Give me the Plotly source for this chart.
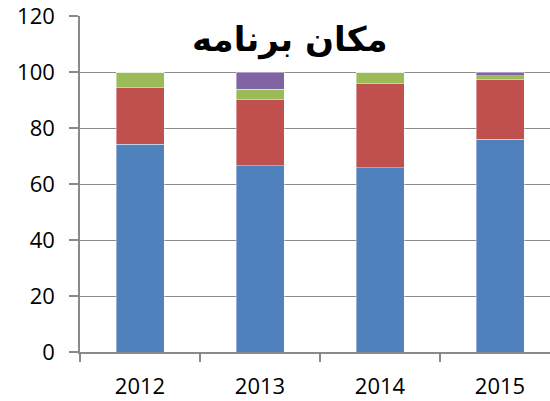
import plotly.graph_objects as go

years = ["2012", "2013", "2014", "2015"]
blue_vals = [74.2, 66.5, 65.8, 76.0]
red_vals = [20.2, 23.6, 30.0, 21.3]
green_vals = [5.6, 3.8, 4.2, 1.4]
purple_vals = [0.0, 6.1, 0.0, 1.3]
y_ticks = [0, 20, 40, 60, 80, 100, 120]
title_text = "مکان برنامه"

series = [
    (blue_vals, "#4F81BD"),
    (red_vals, "#C0504D"),
    (green_vals, "#9BBB59"),
    (purple_vals, "#8064A2"),
]

fig = go.Figure()
for vals, col in series:
    fig.add_trace(go.Bar(x=years, y=vals, marker=dict(color=col, line=dict(color="rgba(255,255,255,0.5)", width=0.8)),
                         showlegend=False))

fig.update_layout(
    barmode="stack",
    bargap=0.6,
    width=550, height=401,
    margin=dict(l=80, r=0, t=16, b=49),
    paper_bgcolor="white", plot_bgcolor="white",
    font=dict(family="Open Sans, Liberation Sans, sans-serif", size=22, color="black"),
    xaxis=dict(range=[-0.5, 3.4167], showline=True, linecolor="#898989", linewidth=1.5,
               ticks="outside", tickson="boundaries", ticklen=8, tickcolor="#898989", tickwidth=1.5,
               showgrid=False, tickfont=dict(size=22), ticklabelstandoff=14),
    yaxis=dict(range=[0, 120], tickvals=y_ticks, showline=True, linecolor="#898989", linewidth=1.5,
               ticks="outside", ticklen=9, tickcolor="#898989", tickwidth=1.5,
               showgrid=True, gridcolor="#8c8c8c", gridwidth=1.3, zeroline=False,
               tickfont=dict(size=22), ticklabelstandoff=10, ticklabeloverflow="allow"),
    annotations=[dict(text="<b>" + title_text + "</b>", x=0.447, y=0.929, xref="paper", yref="paper",
                      showarrow=False, font=dict(family="DejaVu Sans", size=34, color="black"),
                      xanchor="center", yanchor="middle")],
)

fig.write_html("out.html", config={"displayModeBar": False},
               post_script="document.body.style.margin='0';")
